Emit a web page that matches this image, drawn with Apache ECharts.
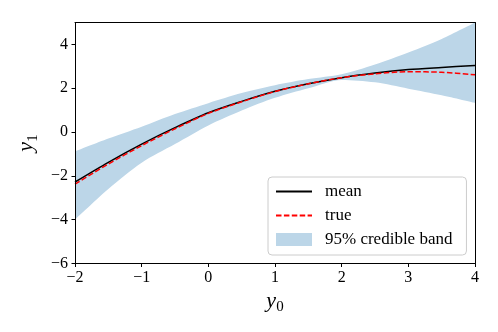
<!DOCTYPE html>
<html>
<head>
<meta charset="utf-8">
<script src="https://cdn.jsdelivr.net/npm/echarts@6/dist/echarts.min.js"></script>
<style>
  html, body { margin: 0; padding: 0; background: #fff; }
  #chart { width: 498px; height: 332px; }
</style>
</head>
<body>
<div id="chart"></div>
<script>
  // values
  const xs = [-2, -1.5, -1, -0.5, 0, 0.5, 1, 1.5, 2, 2.5, 3, 3.5, 4];
  const meanVals = [-2.28, -1.38, -0.55, 0.2, 0.88, 1.4, 1.86, 2.2, 2.48, 2.69, 2.85, 2.95, 3.04];
  const trueVals = [-2.38, -1.46, -0.62, 0.15, 0.85, 1.38, 1.85, 2.2, 2.48, 2.66, 2.75, 2.73, 2.61];
  const bandLower = [-4.0, -2.6, -1.4, -0.55, 0.3, 0.98, 1.56, 2.0, 2.38, 2.27, 1.98, 1.68, 1.33];
  const bandUpper = [-0.89, -0.3, 0.24, 0.82, 1.32, 1.78, 2.14, 2.42, 2.64, 3.08, 3.63, 4.25, 5.0];
  const yTicks = [-6, -4, -2, 0, 2, 4];

  const serif = 'Liberation Serif';
  const bandColor = '#bcd6e8';
  const minus = v => String(v).replace('-', '\u2212');
  const noSymbol = { color: 'rgba(0,0,0,0)', borderWidth: 0 };
  const spine = { show: true, onZero: false, lineStyle: { color: '#000', width: 1 } };
  const nameRich = {
    i: { fontFamily: serif, fontStyle: 'italic', fontSize: 22, color: '#000' },
    s: { fontFamily: serif, fontSize: 15, color: '#000', verticalAlign: 'bottom', padding: [12, 0, 0, 0] }
  };

  const chart = echarts.init(document.getElementById('chart'));

  chart.setOption({
    animation: false,
    grid: {
      left: 75, right: 23, top: 22.5, bottom: 68.5,
      containLabel: false, outerBoundsMode: 'none'
    },
    legend: {
      orient: 'vertical',
      left: 268, top: 177,
      padding: [6, 14, 7, 7],
      itemWidth: 36, itemHeight: 13, itemGap: 7,
      backgroundColor: 'rgba(255,255,255,0.8)',
      borderColor: '#cccccc', borderWidth: 1, borderRadius: 4,
      textStyle: { fontFamily: serif, fontSize: 17, color: '#000', padding: [0, 0, 0, 8] },
      data: [
        { name: 'mean', itemStyle: noSymbol },
        { name: 'true', itemStyle: noSymbol },
        { name: '95% credible band', icon: 'rect', itemStyle: { color: bandColor } }
      ]
    },
    xAxis: [
      {
        type: 'category', data: xs, boundaryGap: false, z: 5,
        name: '{i|y}{s|0}', nameLocation: 'middle', nameGap: 24,
        nameTextStyle: { rich: nameRich },
        splitLine: { show: false },
        axisLine: spine,
        axisTick: { length: 3.5, interval: 1, lineStyle: { color: '#000' } },
        axisLabel: {
          fontFamily: serif, fontSize: 16, color: '#000', margin: 6,
          interval: 1, formatter: minus
        }
      },
      {
        type: 'category', data: xs, boundaryGap: false, position: 'top', z: 5,
        axisLine: spine, axisTick: { show: false }, axisLabel: { show: false },
        splitLine: { show: false }
      }
    ],
    yAxis: [
      {
        type: 'value', min: -6, max: 5, interval: 2, z: 5,
        name: '{i|y}{s|1}', nameLocation: 'middle', nameGap: 33, nameRotate: 90,
        nameTextStyle: { rich: nameRich },
        splitLine: { show: false },
        axisLine: spine,
        axisTick: { show: true, length: 3.5, lineStyle: { color: '#000' }, customValues: yTicks },
        axisLabel: {
          fontFamily: serif, fontSize: 16, color: '#000', margin: 7,
          customValues: yTicks, formatter: minus
        }
      },
      {
        type: 'value', min: -6, max: 5, position: 'right', z: 5,
        axisLine: spine, axisTick: { show: false }, axisLabel: { show: false },
        splitLine: { show: false }
      }
    ],
    series: [
      {
        name: 'bandBase', type: 'line', stack: 'band', stackStrategy: 'all', smooth: 0.3,
        symbol: 'none', silent: true,
        lineStyle: { width: 0, opacity: 0 },
        data: bandLower
      },
      {
        name: '95% credible band', type: 'line', stack: 'band', stackStrategy: 'all', smooth: 0.3,
        symbol: 'none', silent: true,
        itemStyle: { color: bandColor },
        lineStyle: { width: 0, opacity: 0 },
        areaStyle: { color: bandColor, opacity: 1 },
        data: bandUpper.map((u, i) => u - bandLower[i])
      },
      {
        name: 'mean', type: 'line', smooth: 0.3, symbol: 'none',
        itemStyle: { color: '#000' },
        lineStyle: { color: '#000', width: 1.5 },
        data: meanVals
      },
      {
        name: 'true', type: 'line', smooth: 0.3, symbol: 'none',
        itemStyle: { color: '#ff0000' },
        lineStyle: { color: '#ff0000', width: 1.5, type: [5.5, 2.4] },
        data: trueVals
      }
    ]
  });
</script>
</body>
</html>
